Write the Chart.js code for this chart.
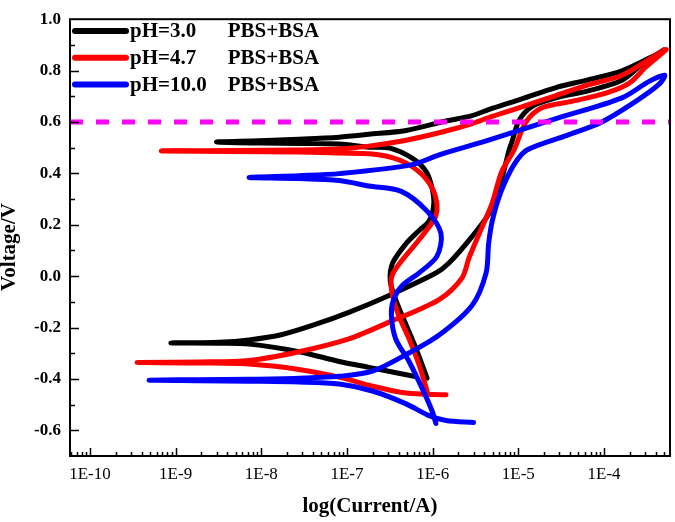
<!DOCTYPE html>
<html>
<head>
<meta charset="utf-8">
<title>Polarization curves</title>
<script src="https://cdn.jsdelivr.net/npm/chart.js@4.4.1/dist/chart.umd.min.js"></script>
<style>
  html, body { margin: 0; padding: 0; background: #fff; }
  canvas { display: block; }
</style>
</head>
<body>
<canvas id="tafelChart" width="675" height="522"></canvas>
<script>
// Series: current (A) and potential (V), in scan order (forward then reverse)
const seriesLabels = ['pH=3.0      PBS+BSA', 'pH=4.7      PBS+BSA', 'pH=10.0    PBS+BSA'];
const seriesColors = ['#000000', '#ff0000', '#0000ff'];

const ph3Current = [
    6.1e-7, 4.0e-7, 1.8e-7, 8.1e-8, 2.75e-8, 7.2e-9, 3.2e-9, 8.8e-10, 3.2e-9, 7.2e-9,
    1.75e-8, 4.35e-8, 1.05e-7, 3.1e-7, 1.09e-6, 1.55e-6, 2.88e-6, 4.5e-6, 6.0e-6, 7.2e-6,
    7.8e-6, 8.4e-6, 1.02e-5, 1.44e-5, 2.75e-5, 6.7e-5, 1.62e-4, 2.77e-4, 5.0e-4,
    4.0e-4, 1.62e-4, 6.5e-5, 2.75e-5, 1.1e-5, 4.5e-6, 2.9e-6, 1.36e-6, 4.9e-7, 1.8e-7,
    8.1e-8, 2.75e-8, 9.4e-9, 3.0e-9, 9.4e-9, 2.75e-8, 8.1e-8, 1.8e-7, 3.1e-7, 5.7e-7,
    8.4e-7, 9.8e-7, 1.03e-6, 9.1e-7, 6.9e-7, 4.9e-7, 3.4e-7, 3.2e-7, 3.7e-7, 4.9e-7,
    6.4e-7, 8.6e-7
];
const ph3Voltage = [
    -0.390, -0.378, -0.355, -0.332, -0.294, -0.264, -0.261, -0.260, -0.257, -0.248,
    -0.227, -0.187, -0.141, -0.075, 0.012, 0.051, 0.154, 0.242, 0.345, 0.445,
    0.491, 0.522, 0.606, 0.660, 0.694, 0.722, 0.762, 0.824, 0.881,
    0.861, 0.799, 0.764, 0.734, 0.690, 0.648, 0.625, 0.602, 0.567, 0.552,
    0.541, 0.533, 0.527, 0.522, 0.518, 0.516, 0.514, 0.502, 0.499, 0.460,
    0.407, 0.345, 0.280, 0.215, 0.177, 0.127, 0.050, -0.020, -0.091, -0.190,
    -0.282, -0.397
];

const ph47Current = [
    1.43e-6, 4.9e-7, 1.98e-7, 8.1e-8, 2.75e-8, 7.2e-9, 1.87e-9, 3.55e-10, 1.87e-9, 7.2e-9,
    2.75e-8, 1.05e-7, 3.1e-7, 1.19e-6, 2.2e-6, 2.65e-6, 3.5e-6, 4.9e-6, 6.4e-6, 8.9e-6,
    1.23e-5, 1.89e-5, 4.2e-5, 1.05e-4, 1.95e-4, 3.1e-4, 5.3e-4,
    4.7e-4, 1.62e-4, 6.5e-5, 2.75e-5, 1.1e-5, 4.5e-6, 2.9e-6, 1.36e-6, 4.9e-7, 1.8e-7,
    8.1e-8, 2.75e-8, 4.2e-9, 6.8e-10, 4.2e-9, 2.75e-8, 8.1e-8, 1.98e-7, 4.0e-7, 6.9e-7,
    9.8e-7, 1.12e-6, 1.09e-6, 9.1e-7, 6.4e-7, 4.4e-7, 3.35e-7, 3.35e-7, 4.0e-7, 5.3e-7,
    6.9e-7, 8.6e-7
];
const ph47Voltage = [
    -0.462, -0.455, -0.428, -0.393, -0.363, -0.342, -0.338, -0.336, -0.334, -0.328,
    -0.294, -0.244, -0.179, -0.091, -0.007, 0.070, 0.166, 0.280, 0.407, 0.491,
    0.600, 0.655, 0.680, 0.712, 0.750, 0.815, 0.881,
    0.874, 0.782, 0.744, 0.703, 0.659, 0.617, 0.594, 0.563, 0.529, 0.506,
    0.495, 0.491, 0.489, 0.487, 0.485, 0.483, 0.479, 0.475, 0.453, 0.407,
    0.345, 0.280, 0.234, 0.192, 0.127, 0.062, 0.001, -0.064, -0.152, -0.244,
    -0.343, -0.447
];

const ph10Current = [
    3.0e-6, 1.43e-6, 9.1e-7, 4.9e-7, 1.98e-7, 8.1e-8, 2.75e-8, 7.2e-9, 1.87e-9, 4.9e-10,
    1.87e-9, 7.2e-9, 2.75e-8, 8.1e-8, 1.98e-7, 4.9e-7, 1.19e-6, 2.88e-6, 4.2e-6, 4.5e-6,
    5.0e-6, 6.3e-6, 8.9e-6, 1.26e-5, 3.7e-5, 9.2e-5, 2.23e-4, 4.4e-4, 5.1e-4,
    3.4e-4, 1.62e-4, 2.75e-5, 4.5e-6, 1.19e-6, 5.6e-7, 8.1e-8, 2.75e-8, 7.2e-9, 2.75e-8,
    8.1e-8, 1.8e-7, 4.3e-7, 8.6e-7, 1.25e-6, 1.12e-6, 6.9e-7, 4.4e-7, 3.5e-7, 3.3e-7,
    3.7e-7, 5.3e-7, 7.5e-7, 9.8e-7, 1.09e-6
];
const ph10Voltage = [
    -0.570, -0.562, -0.543, -0.497, -0.447, -0.420, -0.412, -0.409, -0.407, -0.405,
    -0.403, -0.401, -0.397, -0.390, -0.370, -0.305, -0.229, -0.114, 0.012, 0.127,
    0.220, 0.330, 0.434, 0.491, 0.548, 0.598, 0.675, 0.747, 0.782,
    0.759, 0.694, 0.613, 0.529, 0.472, 0.433, 0.399, 0.391, 0.384, 0.380,
    0.372, 0.351, 0.330, 0.253, 0.166, 0.077, 0.012, -0.037, -0.091, -0.152,
    -0.244, -0.332, -0.435, -0.523, -0.573
];

const refVoltage = 0.6;
const xMin = 5.85e-11;
const xMax = 5.89e-4;
const xTickExponents = [-10, -9, -8, -7, -6, -5, -4];
const yTickValues = [-0.6, -0.4, -0.2, 0, 0.2, 0.4, 0.6, 0.8, 1.0];
const yTitle = 'Voltage/V';

const serif = "'Liberation Serif', 'Times New Roman', serif";

function toPoints(current, voltage) {
    return current.map((c, i) => ({ x: c, y: voltage[i] }));
}

function curve(idx, current, voltage, order) {
    return {
        label: seriesLabels[idx],
        data: toPoints(current, voltage),
        borderColor: seriesColors[idx],
        borderWidth: 5,
        showLine: true,
        pointRadius: 0,
        tension: 0.3,
        borderCapStyle: 'round',
        borderJoinStyle: 'round',
        order: order
    };
}

// inward tick marks, the box frame, the y title and the legend inside the plot
const frameAndLegend = {
    id: 'frameAndLegend',
    afterDraw(chart) {
        const ctx = chart.ctx;
        const a = chart.chartArea;
        const xs = chart.scales.x;
        const ys = chart.scales.y;
        ctx.save();
        ctx.strokeStyle = '#000';
        ctx.lineWidth = 1.5;
        ctx.beginPath();
        for (let e = -11; e <= -4; e++) {
            for (let k = 1; k <= 9; k++) {
                const v = k * Math.pow(10, e);
                if (v < xs.min || v > xs.max) continue;
                const px = Math.round(xs.getPixelForValue(v)) + 0.5;
                const len = k === 1 ? 8 : 4;
                ctx.moveTo(px, a.bottom);
                ctx.lineTo(px, a.bottom - len);
            }
        }
        for (let i = -6; i <= 9; i++) {
            const v = i / 10;
            const py = Math.round(ys.getPixelForValue(v)) + 0.5;
            const len = (i % 2 === 0) ? 9 : 5;
            ctx.moveTo(a.left, py);
            ctx.lineTo(a.left + len, py);
        }
        ctx.stroke();

        ctx.lineWidth = 2;
        ctx.strokeRect(a.left, a.top, a.right - a.left, a.bottom - a.top);

        // y axis title
        ctx.fillStyle = '#000';
        ctx.font = 'bold 21px ' + serif;
        ctx.textAlign = 'center';
        ctx.textBaseline = 'middle';
        ctx.save();
        ctx.translate(10, 247);
        ctx.rotate(-Math.PI / 2);
        ctx.fillText(yTitle, 0, 0);
        ctx.restore();

        // legend
        ctx.textAlign = 'left';
        ctx.lineCap = 'round';
        for (let i = 0; i < seriesLabels.length; i++) {
            const y = 31 + i * 26.7;
            ctx.strokeStyle = seriesColors[i];
            ctx.lineWidth = 6;
            ctx.beginPath();
            ctx.moveTo(75, y);
            ctx.lineTo(126, y);
            ctx.stroke();
            ctx.fillText(seriesLabels[i], 130, y + 1);
        }
        ctx.restore();
    }
};

new Chart(document.getElementById('tafelChart'), {
    type: 'scatter',
    data: {
        datasets: [
            curve(0, ph3Current, ph3Voltage, 3),
            curve(1, ph47Current, ph47Voltage, 2),
            curve(2, ph10Current, ph10Voltage, 1),
            {
                label: 'ref',
                data: [{ x: xMin, y: refVoltage }, { x: xMax, y: refVoltage }],
                borderColor: '#ff00ff',
                borderWidth: 5,
                borderDash: [13, 13],
                showLine: true,
                pointRadius: 0,
                order: 0
            }
        ]
    },
    options: {
        responsive: false,
        animation: false,
        events: [],
        layout: { padding: { top: 12, right: 5, left: 0, bottom: 0 } },
        plugins: {
            legend: { display: false },
            tooltip: { enabled: false }
        },
        scales: {
            x: {
                type: 'logarithmic',
                min: xMin,
                max: xMax,
                afterBuildTicks: function(scale) {
                    scale.ticks = xTickExponents.map(e => ({ value: Math.pow(10, e) }));
                },
                afterFit: function(scale) {
                    scale.height = 66;
                },
                grid: { display: false, drawTicks: false },
                border: { display: false },
                ticks: {
                    color: '#000',
                    padding: 8,
                    autoSkip: false,
                    maxRotation: 0,
                    font: { family: serif, size: 17 },
                    callback: function(value) {
                        return '1E' + Math.round(Math.log10(value));
                    }
                },
                title: {
                    display: true,
                    text: 'log(Current/A)',
                    color: '#000',
                    font: { family: serif, size: 21, weight: 'bold' },
                    padding: { top: 0, bottom: 3 }
                }
            },
            y: {
                type: 'linear',
                min: -0.7,
                max: 1.0,
                afterBuildTicks: function(scale) {
                    scale.ticks = yTickValues.map(v => ({ value: v }));
                },
                afterFit: function(scale) {
                    scale.width = 70;
                },
                grid: { display: false, drawTicks: false },
                border: { display: false },
                ticks: {
                    color: '#000',
                    padding: 9,
                    font: { family: serif, size: 17, weight: 'bold' },
                    callback: function(value) {
                        return value.toFixed(1);
                    }
                },
                title: { display: false }
            }
        }
    },
    plugins: [frameAndLegend]
});
</script>
</body>
</html>
